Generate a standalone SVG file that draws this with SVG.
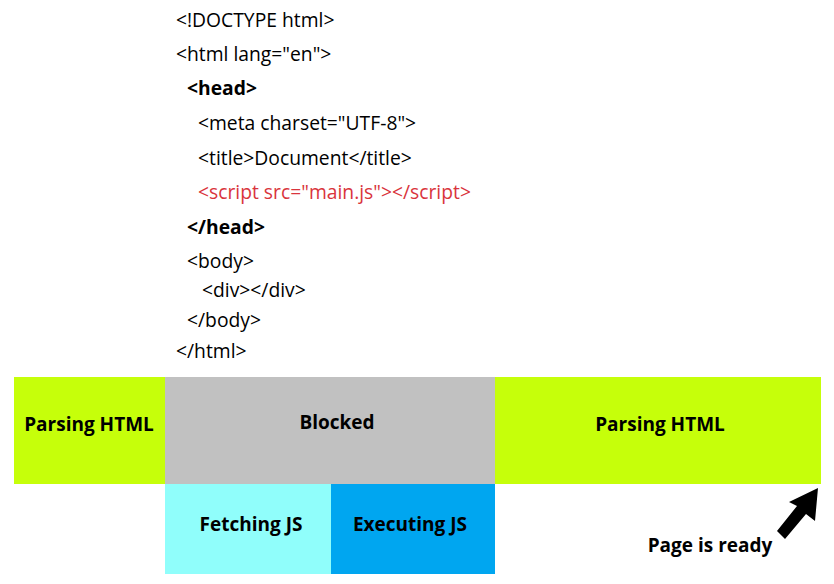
<svg xmlns="http://www.w3.org/2000/svg" width="834" height="584" viewBox="0 0 834 584">
<style>
.code{font-family:"Open Sans","Noto Sans","DejaVu Sans",sans-serif;font-size:19.3px;fill:#000}
.b{font-weight:bold}
.red{fill:#d9343c}
.lbl{font-family:"Open Sans","Noto Sans","DejaVu Sans",sans-serif;font-size:19px;font-weight:bold;fill:#000;text-anchor:middle}
</style>
<rect width="834" height="584" fill="#fff"/>
<g id="code">
<text class="code" x="176" y="27">&lt;!DOCTYPE html&gt;</text>
<text class="code" x="176" y="61">&lt;html lang="en"&gt;</text>
<text class="code b" x="187" y="95">&lt;head&gt;</text>
<text class="code" x="198" y="130">&lt;meta charset="UTF-8"&gt;</text>
<text class="code" x="198" y="165">&lt;title&gt;Document&lt;/title&gt;</text>
<text class="code red" x="198" y="199">&lt;script src="main.js"&gt;&lt;/script&gt;</text>
<text class="code b" x="187" y="234">&lt;/head&gt;</text>
<text class="code" x="187" y="268">&lt;body&gt;</text>
<text class="code" x="202" y="297">&lt;div&gt;&lt;/div&gt;</text>
<text class="code" x="187" y="327">&lt;/body&gt;</text>
<text class="code" x="176" y="358">&lt;/html&gt;</text>
</g>
<g id="parse1"><rect x="14" y="377" width="151" height="107" fill="#c6ff0a"/><text class="lbl" x="89" y="431">Parsing HTML</text></g>
<g id="blocked"><rect x="165" y="377" width="330" height="107" fill="#c1c1c1"/><text class="lbl" x="337" y="429">Blocked</text></g>
<g id="parse2"><rect x="495" y="377" width="326" height="107" fill="#c6ff0a"/><text class="lbl" x="660" y="431">Parsing HTML</text></g>
<g id="fetch"><rect x="165" y="484" width="166" height="90" fill="#90fefb"/><text class="lbl" x="251" y="531">Fetching JS</text></g>
<g id="exec"><rect x="331" y="484" width="164" height="90" fill="#00a6f0"/><text class="lbl" x="410" y="531">Executing JS</text></g>
<g id="ready"><text class="lbl" x="710" y="552">Page is ready</text></g>
<g id="connectors">
<polygon points="818,488 815,521 806,514 785,539 777,531 797,506 789,502" fill="#000"/>
</g>
</svg>
